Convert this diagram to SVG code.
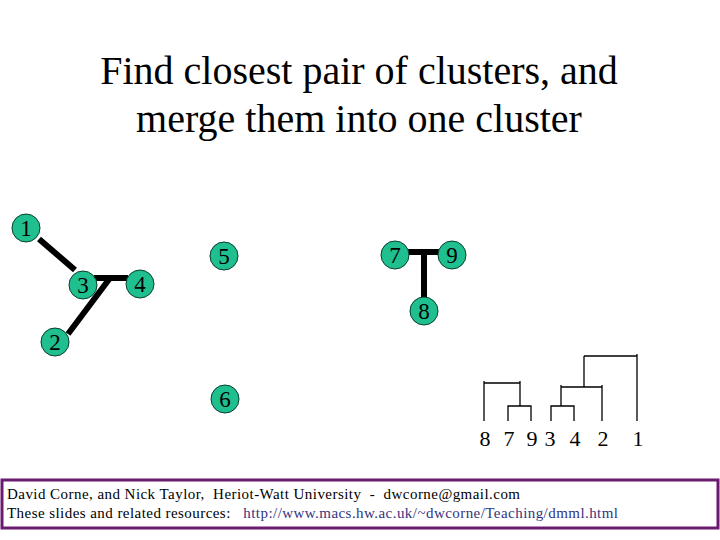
<svg xmlns="http://www.w3.org/2000/svg" width="720" height="540" viewBox="0 0 720 540">
<style>
.title{font-family:"Liberation Serif",serif;font-size:40px;fill:#000;text-anchor:middle}
.node circle{fill:#1fbf8f;stroke:#0a3d2e;stroke-width:1}
.node text{font-family:"Liberation Serif",serif;font-size:23px;fill:#000;text-anchor:middle}
.edge{stroke:#000;stroke-width:6;fill:none}
.dend{stroke:#000;stroke-width:1.3;fill:none}
.leaf{font-family:"Liberation Serif",serif;font-size:22px;fill:#000;text-anchor:middle}
.foot{font-family:"Liberation Serif",serif;font-size:15px;fill:#000;white-space:pre}
.link{fill:#333380}
</style>
<rect width="720" height="540" fill="#fff"/>
<text class="title" x="359" y="84">Find closest pair of clusters, and</text>
<text class="title" x="359" y="132">merge them into one cluster</text>
<g id="connectors">
<line class="edge" x1="39" y1="239" x2="75" y2="270"/>
<line class="edge" x1="94" y1="278" x2="128" y2="278"/>
<line class="edge" x1="68" y1="334" x2="110" y2="278"/>
<line class="edge" x1="405" y1="252" x2="441" y2="252"/>
<line class="edge" x1="424" y1="252" x2="424" y2="297"/>
</g>
<g id="n1" class="node"><circle cx="26" cy="228" r="14"/><text x="26" y="236">1</text></g>
<g id="n3" class="node"><circle cx="83" cy="285" r="14"/><text x="83" y="293">3</text></g>
<g id="n4" class="node"><circle cx="140" cy="284" r="14"/><text x="140" y="292">4</text></g>
<g id="n5" class="node"><circle cx="224" cy="256" r="14"/><text x="224" y="264">5</text></g>
<g id="n2" class="node"><circle cx="55" cy="342" r="14"/><text x="55" y="350">2</text></g>
<g id="n6" class="node"><circle cx="225" cy="399" r="14"/><text x="225" y="407">6</text></g>
<g id="n7" class="node"><circle cx="395" cy="255" r="14"/><text x="395" y="263">7</text></g>
<g id="n9" class="node"><circle cx="452" cy="255" r="14"/><text x="452" y="263">9</text></g>
<g id="n8" class="node"><circle cx="424" cy="311" r="14"/><text x="424" y="319">8</text></g>
<g id="dendrogram">
<path class="dend" d="M484 421V381M484 383H520M520 381V406M508 421V406H531V421M551 421V406H574V421M561 406V385M561 387H602M602 385V421M584 387V356M584 356H637M637 354V421"/>
<text class="leaf" x="485" y="446">8</text>
<text class="leaf" x="509" y="446">7</text>
<text class="leaf" x="532" y="446">9</text>
<text class="leaf" x="550" y="446">3</text>
<text class="leaf" x="575" y="446">4</text>
<text class="leaf" x="603" y="446">2</text>
<text class="leaf" x="638" y="446">1</text>
</g>
<rect x="2" y="480" width="716" height="48" fill="#fff" stroke="#6b1a70" stroke-width="3"/>
<text class="foot" x="7" y="499" textLength="513" lengthAdjust="spacing">David Corne, and Nick Taylor,  Heriot-Watt University  -  dwcorne@gmail.com</text>
<text class="foot" x="7" y="518" textLength="611" lengthAdjust="spacing">These slides and related resources:   <tspan class="link">http://www.macs.hw.ac.uk/~dwcorne/Teaching/dmml.html</tspan></text>
</svg>
